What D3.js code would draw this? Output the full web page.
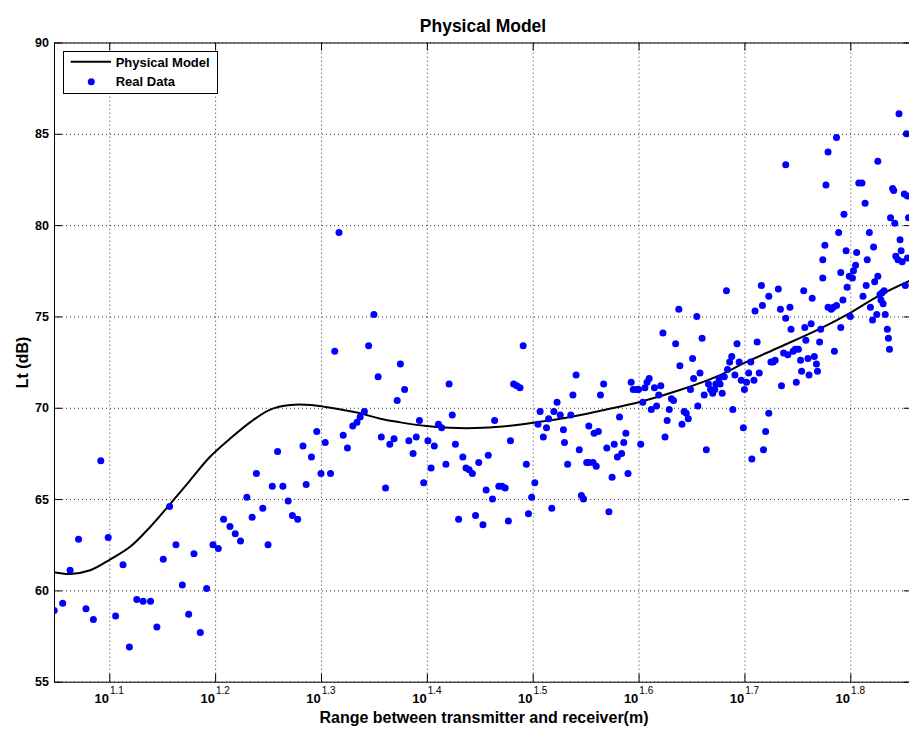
<!DOCTYPE html>
<html>
<head>
<meta charset="utf-8">
<script src="https://cdn.jsdelivr.net/npm/d3@7"></script>
<style>
body { margin: 0; background: #fff; }
text { font-family: "Liberation Sans", Arial, sans-serif; }
</style>
</head>
<body>
<svg id="chart" width="909" height="729"></svg>
<script>
// axis ticks
const yTicks = [55, 60, 65, 70, 75, 80, 85, 90];
const xTickExp = [1.1, 1.2, 1.3, 1.4, 1.5, 1.6, 1.7, 1.8];

// physical model curve (range given as log10 exponent)
const modelExp = [1.0478, 1.063, 1.082, 1.101, 1.120, 1.139, 1.157, 1.176, 1.195, 1.214, 1.233, 1.252, 1.271, 1.290,
	1.309, 1.337, 1.356, 1.375, 1.400, 1.422, 1.453, 1.485, 1.507, 1.533, 1.564, 1.602, 1.639, 1.677,
	1.699, 1.734, 1.772, 1.800, 1.828, 1.858];
const modelLt = [61.0, 60.9, 61.1, 61.7, 62.4, 63.5, 64.7, 66.0, 67.3, 68.3, 69.2, 69.9, 70.15, 70.15,
	70.0, 69.7, 69.4, 69.2, 69.0, 68.9, 68.9, 69.05, 69.23, 69.47, 69.84, 70.33, 70.97, 71.79,
	72.43, 73.34, 74.35, 75.2, 76.17, 77.0];

// measured points (range exponent, Lt in dB)
const dataExp = [1.048, 1.056, 1.063, 1.071, 1.078, 1.085, 1.092, 1.099, 1.106, 1.113, 1.119, 1.126, 1.132, 1.139,
	1.145, 1.151, 1.157, 1.163, 1.169, 1.175, 1.180, 1.186, 1.192, 1.198, 1.203, 1.208, 1.214, 1.219,
	1.224, 1.230, 1.235, 1.239, 1.245, 1.250, 1.254, 1.259, 1.264, 1.269, 1.273, 1.278, 1.283, 1.286,
	1.291, 1.296, 1.300, 1.304, 1.309,
	1.313, 1.317, 1.321, 1.325, 1.330, 1.334, 1.337, 1.341, 1.345, 1.350, 1.354, 1.357, 1.361, 1.365,
	1.369, 1.372, 1.375, 1.379, 1.383, 1.387, 1.390, 1.393, 1.397, 1.401, 1.404, 1.407, 1.411, 1.414,
	1.418, 1.421, 1.424, 1.427, 1.430, 1.434, 1.437, 1.440, 1.443, 1.446, 1.449, 1.453, 1.456, 1.458,
	1.462, 1.464, 1.468, 1.471, 1.474, 1.477, 1.479, 1.482, 1.485, 1.488, 1.491, 1.494, 1.496, 1.499,
	1.502, 1.505, 1.507, 1.510, 1.513, 1.515, 1.518, 1.520, 1.523, 1.526, 1.529, 1.530, 1.533, 1.536,
	1.538, 1.541, 1.544, 1.546, 1.548, 1.551, 1.553, 1.553, 1.557, 1.558, 1.560, 1.562, 1.564,
	1.567, 1.570, 1.572, 1.575, 1.577, 1.580, 1.582, 1.584, 1.586, 1.588, 1.590, 1.593, 1.595, 1.598,
	1.600, 1.602, 1.604, 1.606, 1.608, 1.610, 1.612, 1.615, 1.617, 1.619, 1.621, 1.623, 1.625, 1.627,
	1.629, 1.631, 1.633, 1.635, 1.638, 1.639, 1.641, 1.643, 1.645, 1.647, 1.649, 1.651, 1.652, 1.655,
	1.656, 1.658, 1.660, 1.662, 1.664, 1.666, 1.668, 1.670, 1.672, 1.673, 1.676, 1.677, 1.679, 1.681,
	1.683, 1.684, 1.686, 1.688, 1.689, 1.691, 1.693, 1.695, 1.697, 1.699, 1.700, 1.702, 1.704, 1.706,
	1.707, 1.709, 1.710, 1.712, 1.714, 1.716, 1.717, 1.718, 1.720, 1.723, 1.723, 1.725, 1.727, 1.729,
	1.732, 1.734, 1.735, 1.737, 1.739, 1.739, 1.741, 1.743, 1.744, 1.746, 1.748, 1.751, 1.749, 1.753,
	1.754, 1.756, 1.757, 1.758, 1.760, 1.761, 1.763, 1.764, 1.766, 1.768, 1.769, 1.771, 1.772, 1.774,
	1.774, 1.776, 1.777, 1.779, 1.779, 1.782, 1.784, 1.787, 1.785, 1.787, 1.789, 1.791, 1.791, 1.793,
	1.794, 1.796, 1.797, 1.799, 1.800, 1.802, 1.803, 1.805, 1.806, 1.808, 1.811, 1.812, 1.814, 1.815,
	1.816, 1.818, 1.819, 1.821, 1.822, 1.823, 1.826, 1.825, 1.826, 1.828, 1.829, 1.830, 1.831, 1.832,
	1.833, 1.835, 1.836, 1.837, 1.838, 1.840, 1.841, 1.842, 1.843, 1.845, 1.846, 1.847, 1.848, 1.849,
	1.851, 1.854, 1.852, 1.853, 1.854, 1.855];
const dataLt = [58.9, 59.3, 61.1, 62.8, 59.0, 58.4, 67.1, 62.9, 58.6, 61.4, 56.9, 59.5, 59.4, 59.4,
	58.0, 61.7, 64.6, 62.5, 60.3, 58.7, 62.0, 57.7, 60.1, 62.5, 62.3, 63.9, 63.5, 63.1,
	62.7, 65.1, 64.0, 66.4, 64.5, 62.5, 65.7, 67.6, 65.7, 64.9, 64.1, 63.9, 67.9, 65.8,
	67.3, 68.7, 66.4, 68.1, 66.4,
	73.1, 79.6, 68.5, 67.8, 69.0, 69.2, 69.5, 69.8, 73.4, 75.1, 71.7, 68.4, 65.6, 68.0,
	68.3, 70.4, 72.4, 71.0, 68.2, 67.5, 68.4, 69.3, 65.9, 68.2, 66.7, 67.9, 69.1, 68.9,
	66.9, 71.3, 69.6, 68.0, 63.9, 67.3, 66.7, 66.6, 66.4, 64.1, 67.0, 63.6, 65.5, 67.4,
	65.0, 69.3, 65.7, 65.7, 65.6, 63.8, 68.2, 71.3, 71.2, 71.1, 73.4, 66.9, 64.2, 65.1,
	65.9, 69.1, 69.8, 68.4, 68.9, 69.4, 64.5, 69.8, 70.3, 69.6, 68.8, 68.1, 66.9, 69.6,
	70.7, 71.8, 67.7, 65.2, 65.0, 67.0, 69.0, 67.0, 67.0, 68.6, 66.8, 68.7, 70.7,
	71.3, 67.8, 64.3, 66.2, 68.0, 67.3, 69.5, 67.5, 68.1, 68.6, 66.4, 71.4, 71.0, 71.0,
	71.0, 68.0, 70.3, 71.1, 71.4, 71.6, 69.9, 71.1, 70.1, 70.7, 71.2, 74.1, 68.4, 69.3,
	69.9, 70.5, 70.4, 73.5, 75.4, 72.3, 69.1, 69.8, 69.7, 69.4, 71.0, 72.7, 71.6, 75.0,
	70.1, 71.9, 73.8, 70.7, 67.7, 71.3, 71.0, 70.8, 71.0, 71.3, 71.6, 71.3, 70.8, 71.7,
	76.4, 72.1, 72.5, 72.8, 69.9, 71.8, 73.5, 72.5, 71.5, 68.9, 71.0, 71.4, 71.9, 72.5,
	67.2, 71.5, 75.3, 73.6, 71.9, 76.7, 75.6, 67.7, 68.7, 69.7, 76.1, 72.5, 72.5, 72.6,
	76.5, 75.4, 71.2, 73.0, 74.9, 83.3, 72.9, 75.5, 74.3, 73.1, 73.2, 73.2, 71.4, 72.6,
	72.0, 76.4, 74.4, 73.7, 72.7, 71.8, 74.6, 76.0, 72.8, 72.4, 72.0, 73.6, 74.3, 77.1,
	78.1, 78.9, 82.2, 84.0, 75.5, 75.4, 75.5, 75.6, 73.1, 84.8, 79.6, 74.4, 77.4, 75.9,
	80.6, 78.6, 76.6, 77.2, 75.0, 77.1, 77.5, 77.8, 78.5, 82.3, 82.3, 76.1, 81.2, 76.7,
	78.1, 79.6, 75.5, 74.8, 78.8, 76.9, 83.5, 75.1, 77.2, 76.2, 75.9, 76.3, 75.7, 76.4,
	75.1, 74.3, 73.8, 73.2, 80.4, 82.0, 81.9, 80.1, 78.3, 78.1, 86.1, 79.2, 78.6, 78.0,
	81.7, 81.6, 76.7, 85.0, 78.2, 80.4];

var plot = {left: 54, right: 911.7, top: 42.5, bottom: 681.7};
var svg = d3.select("#chart");

svg.append("rect").attr("width", 909).attr("height", 729).attr("fill", "#fff");

var x = d3.scaleLog()
	.domain([Math.pow(10, 1.0478), Math.pow(10, 1.858)])
	.range([plot.left, plot.right]);
var y = d3.scaleLinear()
	.domain([55, 90])
	.range([plot.bottom, plot.top]);

var xTicks = xTickExp.map(e => Math.pow(10, e));
var height = plot.bottom - plot.top,
	width = plot.right - plot.left;

svg.append("clipPath").attr("id", "clip")
	.append("rect")
	.attr("x", plot.left).attr("y", plot.top)
	.attr("width", width).attr("height", height);

// dotted grid
var grid = svg.append("g").attr("class", "grid");
grid.append("g")
	.attr("transform", "translate(0," + plot.bottom + ")")
	.call(d3.axisBottom(x).tickValues(xTicks).tickSize(-height).tickFormat(""));
grid.append("g")
	.attr("transform", "translate(" + plot.left + ",0)")
	.call(d3.axisLeft(y).tickValues(yTicks).tickSize(-width).tickFormat(""));
grid.selectAll(".domain").remove();
grid.selectAll("line")
	.attr("stroke", "#333")
	.attr("stroke-width", 1)
	.attr("stroke-dasharray", "1,3");

var inner = svg.append("g").attr("clip-path", "url(#clip)");

// model line
var line = d3.line()
	.x((d, i) => x(Math.pow(10, modelExp[i])))
	.y(d => y(d))
	.curve(d3.curveCatmullRom);

inner.append("path")
	.datum(modelLt)
	.attr("d", line)
	.attr("fill", "none")
	.attr("stroke", "#000")
	.attr("stroke-width", 2);

// real data
inner.selectAll("circle")
	.data(dataLt)
	.enter().append("circle")
	.attr("cx", (d, i) => x(Math.pow(10, dataExp[i])))
	.attr("cy", d => y(d))
	.attr("r", 3.5)
	.attr("fill", "#0000ff");

// axes with inward ticks
function styleAxis(g) {
	g.selectAll("path").attr("stroke", "#000").attr("stroke-width", 1);
	g.selectAll("line").attr("stroke", "#000").attr("stroke-width", 1);
}
svg.append("g")
	.attr("transform", "translate(0," + plot.bottom + ")")
	.call(d3.axisBottom(x).tickValues(xTicks).tickSize(-8).tickSizeOuter(0).tickFormat(""))
	.call(styleAxis);
svg.append("g")
	.attr("transform", "translate(0," + plot.top + ")")
	.call(d3.axisTop(x).tickValues(xTicks).tickSize(-8).tickSizeOuter(0).tickFormat(""))
	.call(styleAxis);
svg.append("g")
	.attr("transform", "translate(" + plot.left + ",0)")
	.call(d3.axisLeft(y).tickValues(yTicks).tickSize(-8).tickSizeOuter(0).tickFormat(""))
	.call(styleAxis);
svg.append("g")
	.attr("transform", "translate(" + plot.right + ",0)")
	.call(d3.axisRight(y).tickValues(yTicks).tickSize(-8).tickSizeOuter(0).tickFormat(""))
	.call(styleAxis);

// y tick labels
svg.append("g").selectAll("text")
	.data(yTicks)
	.enter().append("text")
	.attr("x", 49)
	.attr("y", d => y(d) + 4.5)
	.attr("text-anchor", "end")
	.style("font-size", "12.5px")
	.style("font-weight", "bold")
	.text(d => d);

// x tick labels 10^e
var fmt = d3.format(".1f");
svg.append("g").selectAll("text")
	.data(xTickExp)
	.enter().append("text")
	.attr("x", d => x(Math.pow(10, d)))
	.attr("y", 703)
	.attr("text-anchor", "middle")
	.each(function(d) {
		var t = d3.select(this);
		t.append("tspan").text("10").style("font-size", "13px").style("font-weight", "bold");
		t.append("tspan").attr("dy", -9).attr("dx", 1).text(fmt(d)).style("font-size", "10px");
	});

// titles
svg.append("text")
	.attr("x", 483).attr("y", 31.5)
	.attr("text-anchor", "middle")
	.style("font-size", "17.5px").style("font-weight", "bold")
	.text("Physical Model");
svg.append("text")
	.attr("x", 484).attr("y", 723)
	.attr("text-anchor", "middle")
	.style("font-size", "16px").style("font-weight", "bold")
	.text("Range between transmitter and receiver(m)");
svg.append("text")
	.attr("transform", "translate(28,362.5)rotate(-90)")
	.attr("text-anchor", "middle")
	.style("font-size", "16px").style("font-weight", "bold")
	.text("Lt (dB)");

// legend
var legend = svg.append("g");
legend.append("rect")
	.attr("x", 63.5).attr("y", 51.5)
	.attr("width", 154).attr("height", 42)
	.attr("fill", "#fff").attr("stroke", "#000").attr("stroke-width", 1);
legend.append("line")
	.attr("x1", 70.7).attr("x2", 111).attr("y1", 61.7).attr("y2", 61.7)
	.attr("stroke", "#000").attr("stroke-width", 2);
legend.append("text")
	.attr("x", 115.7).attr("y", 67.2)
	.style("font-size", "13px").style("font-weight", "bold")
	.text("Physical Model");
legend.append("circle")
	.attr("cx", 91.3).attr("cy", 81.7).attr("r", 3.5)
	.attr("fill", "#0000ff");
legend.append("text")
	.attr("x", 115.7).attr("y", 86)
	.style("font-size", "13px").style("font-weight", "bold")
	.text("Real Data");
</script>
</body>
</html>
